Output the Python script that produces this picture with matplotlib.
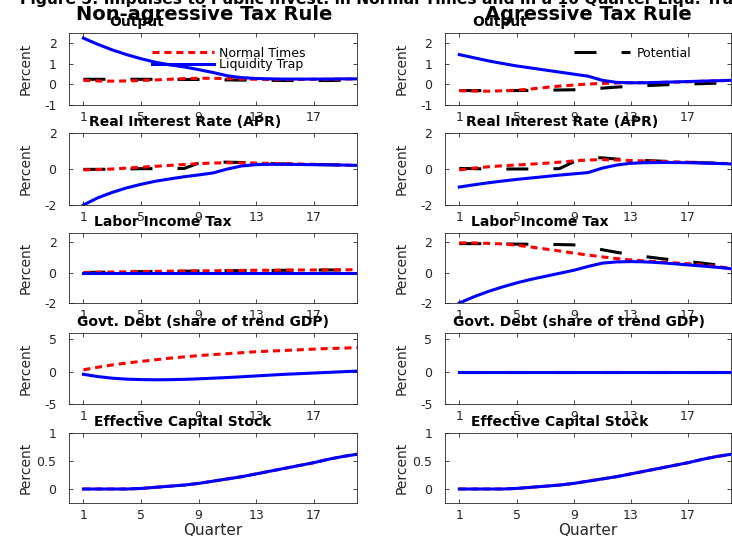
import matplotlib
matplotlib.use("Agg")
import matplotlib.pyplot as plt

quarters = [1, 2, 3, 4, 5, 6, 7, 8, 9, 10, 11, 12, 13, 14, 15, 16, 17, 18, 19, 20]
xtick_vals = [1, 5, 9, 13, 17]

# ---- non-agressive tax rule ----
out_trap_na = [2.25, 1.95, 1.68, 1.45, 1.25, 1.08, 0.95, 0.85, 0.72, 0.58,
               0.42, 0.33, 0.29, 0.27, 0.26, 0.26, 0.26, 0.26, 0.27, 0.27]
out_norm_na = [0.20, 0.17, 0.16, 0.17, 0.19, 0.22, 0.25, 0.28, 0.30, 0.30,
               0.28, 0.26, 0.25, 0.24, 0.24, 0.24, 0.25, 0.25, 0.26, 0.27]
out_pot_na = [0.25, 0.25, 0.25, 0.25, 0.25, 0.25, 0.25, 0.24, 0.24, 0.23,
              0.22, 0.21, 0.20, 0.20, 0.19, 0.19, 0.19, 0.19, 0.20, 0.20]

rr_trap_na = [-2.0, -1.6, -1.3, -1.05, -0.85, -0.68, -0.55, -0.43, -0.33, -0.22,
              0.0, 0.17, 0.24, 0.26, 0.26, 0.25, 0.24, 0.23, 0.22, 0.20]
rr_norm_na = [-0.05, -0.03, 0.0, 0.05, 0.10, 0.15, 0.20, 0.25, 0.30, 0.33,
              0.35, 0.34, 0.33, 0.31, 0.30, 0.28, 0.26, 0.24, 0.22, 0.20]
rr_pot_na = [-0.02, -0.02, -0.01, 0.0, 0.02, 0.02, 0.02, 0.03, 0.33, 0.38,
             0.38, 0.36, 0.33, 0.30, 0.28, 0.26, 0.25, 0.24, 0.22, 0.20]

tax_trap_na = [0.0, 0.0, 0.0, 0.0, 0.0, 0.0, 0.0, 0.0, 0.0, 0.0,
               0.0, 0.0, 0.0, 0.0, 0.0, 0.0, 0.0, 0.0, 0.0, 0.0]
tax_norm_na = [0.0, 0.02, 0.04, 0.05, 0.07, 0.08, 0.09, 0.10, 0.11, 0.12,
               0.13, 0.14, 0.15, 0.15, 0.16, 0.17, 0.17, 0.18, 0.18, 0.19]
tax_pot_na = [0.0, 0.02, 0.03, 0.05, 0.06, 0.07, 0.08, 0.09, 0.10, 0.11,
              0.12, 0.13, 0.14, 0.14, 0.15, 0.16, 0.16, 0.17, 0.17, 0.18]

debt_trap_na = [-0.4, -0.75, -1.0, -1.15, -1.22, -1.25, -1.23, -1.18, -1.1, -1.0,
                -0.9, -0.78, -0.65, -0.52, -0.4, -0.3, -0.2, -0.1, 0.0, 0.1]
debt_norm_na = [0.3, 0.7, 1.05, 1.35, 1.6, 1.85, 2.1, 2.3, 2.5, 2.65,
                2.8, 2.95, 3.1, 3.2, 3.3, 3.4, 3.5, 3.6, 3.65, 3.75]

cap_trap_na = [0.0, 0.0, 0.0, 0.0, 0.01, 0.03, 0.05, 0.07, 0.10, 0.14,
               0.18, 0.22, 0.27, 0.32, 0.37, 0.42, 0.47, 0.53, 0.58, 0.62]
cap_norm_na = cap_trap_na

# ---- agressive tax rule ----
out_trap_ag = [1.45, 1.30, 1.15, 1.02, 0.90, 0.80, 0.70, 0.60, 0.50, 0.40,
               0.20, 0.10, 0.08, 0.08, 0.10, 0.12, 0.14, 0.16, 0.18, 0.20]
out_norm_ag = [-0.30, -0.32, -0.33, -0.31, -0.28, -0.22, -0.15, -0.08, -0.03, 0.02,
               0.05, 0.07, 0.08, 0.09, 0.10, 0.11, 0.13, 0.15, 0.17, 0.20]
out_pot_ag = [-0.30, -0.30, -0.30, -0.30, -0.30, -0.29, -0.28, -0.27, -0.26, -0.23,
              -0.18, -0.13, -0.09, -0.06, -0.03, 0.0, 0.02, 0.04, 0.06, 0.08]

rr_trap_ag = [-1.0, -0.88, -0.77, -0.67, -0.58, -0.5, -0.42, -0.34, -0.27, -0.2,
              0.05, 0.22, 0.32, 0.35, 0.36, 0.36, 0.35, 0.33, 0.31, 0.28]
rr_norm_ag = [-0.05, 0.05, 0.12, 0.18, 0.22, 0.27, 0.32, 0.38, 0.45, 0.50,
              0.52, 0.50, 0.47, 0.45, 0.42, 0.40, 0.38, 0.35, 0.32, 0.30]
rr_pot_ag = [0.03, 0.02, 0.0, 0.0, 0.0, 0.0, 0.0, 0.02, 0.40, 0.65,
             0.62, 0.55, 0.50, 0.47, 0.44, 0.41, 0.38, 0.35, 0.32, 0.30]

tax_trap_ag = [-2.0, -1.6, -1.25, -0.95, -0.68, -0.45, -0.25, -0.05, 0.15, 0.40,
               0.62, 0.70, 0.72, 0.70, 0.65, 0.58, 0.50, 0.43, 0.35, 0.25]
tax_norm_ag = [1.95, 1.95, 1.92, 1.88, 1.80, 1.68, 1.55, 1.42, 1.28, 1.15,
               1.03, 0.92, 0.83, 0.76, 0.70, 0.64, 0.58, 0.50, 0.40, 0.28]
tax_pot_ag = [1.90, 1.90, 1.90, 1.88, 1.87, 1.86, 1.85, 1.84, 1.82, 1.68,
              1.50, 1.33, 1.18, 1.05, 0.93, 0.82, 0.72, 0.62, 0.50, 0.32]

debt_trap_ag = [0.0, 0.0, 0.0, 0.0, 0.0, 0.0, 0.0, 0.0, 0.0, 0.0,
                0.0, 0.0, 0.0, 0.0, 0.0, 0.0, 0.0, 0.0, 0.0, 0.0]
debt_norm_ag = debt_trap_ag
debt_pot_ag = debt_trap_ag

cap_trap_ag = cap_trap_na
cap_norm_ag = cap_trap_na

titles = ["Output", "Real Interest Rate (APR)", "Labor Income Tax",
          "Govt. Debt (share of trend GDP)", "Effective Capital Stock"]
ylims = [(-1, 2.5), (-2, 2), (-2, 2.6), (-5, 6), (-0.25, 1)]
yticks = [[-1, 0, 1, 2], [-2, 0, 2], [-2, 0, 2], [-5, 0, 5], [0, 0.5, 1]]

# (potential, normal, trap) per row
panels = [
    [(out_pot_na, out_norm_na, out_trap_na), (rr_pot_na, rr_norm_na, rr_trap_na),
     (tax_pot_na, tax_norm_na, tax_trap_na), (None, debt_norm_na, debt_trap_na),
     (None, cap_norm_na, cap_trap_na)],
    [(out_pot_ag, out_norm_ag, out_trap_ag), (rr_pot_ag, rr_norm_ag, rr_trap_ag),
     (tax_pot_ag, tax_norm_ag, tax_trap_ag), (debt_pot_ag, debt_norm_ag, debt_trap_ag),
     (None, cap_norm_ag, cap_trap_ag)],
]

W, H = 732, 536
fig = plt.figure(figsize=(W / 100, H / 100), dpi=100)

col_px = [(69, 357), (445, 731)]
row_px = [(33, 105), (133, 205), (233, 303), (333, 404), (433, 503)]
title_x = [[0.236, 0.403, 0.326, 0.465, 0.396], [0.19, 0.41, 0.33, 0.47, 0.40]]

axcol = "0.15"
dotted = (0, (2.3, 1.6))
dashed = (0, (7.2, 8.2))

for c in range(2):
    x0, x1 = col_px[c]
    for r in range(5):
        y0, y1 = row_px[r]
        ax = fig.add_axes([x0 / W, 1 - y1 / H, (x1 - x0) / W, (y1 - y0) / H])
        pot, norm, trap = panels[c][r]
        if pot is not None:
            ax.plot(quarters, pot, color="black", lw=2.2, linestyle=dashed, label="Potential")
        ax.plot(quarters, norm, color="red", lw=2.2, linestyle=dotted, label="Normal Times")
        ax.plot(quarters, trap, color="blue", lw=2.2, label="Liquidity Trap")

        ax.set_xlim(0, 20)
        ax.set_ylim(*ylims[r])
        ax.set_xticks(xtick_vals)
        ax.set_yticks(yticks[r])
        ax.set_yticklabels([f"{v:g}" for v in yticks[r]])
        ax.tick_params(direction="in", top=True, right=True, length=3, width=0.6,
                       colors=axcol, labelsize=9, pad=4)
        ax.tick_params(axis="y", pad=9)
        for s in ax.spines.values():
            s.set_color(axcol)
            s.set_linewidth(0.6)
        ax.set_title(titles[r], x=title_x[c][r], fontsize=10, fontweight="bold", pad=5)
        ax.set_ylabel("Percent", fontsize=10, color=axcol,
                      family=["Liberation Sans Narrow", "DejaVu Sans"])
        ax.yaxis.set_label_coords(-36 / (x1 - x0), 0.5)
        if r == 4:
            ax.set_xlabel("Quarter", fontsize=11, color=axcol)
            ax.xaxis.set_label_coords(0.5, -0.29)

        if r == 0 and c == 0:
            h = ax.get_lines()
            ax.legend([h[1], h[2]], ["Normal Times", "Liquidity Trap"], loc="upper left",
                      bbox_to_anchor=(0.288, 0.81), frameon=False, fontsize=9,
                      borderpad=0, borderaxespad=0, handlelength=5.0,
                      handletextpad=0.4, labelspacing=-0.1)
        if r == 0 and c == 1:
            h = ax.get_lines()
            ax.legend([h[0]], ["Potential"], loc="upper left",
                      bbox_to_anchor=(0.451, 0.81), frameon=False, fontsize=9,
                      borderpad=0, borderaxespad=0, handlelength=4.5,
                      handletextpad=0.5)

fig.text(20 / W, 1 - 4 / H,
         "Figure 5: Impulses to Public Invest. in Normal Times and in a 10 Quarter Liqu. Trap",
         ha="left", va="baseline", fontsize=11.2, fontweight="bold")
fig.text(204 / W, 1 - 14 / H, "Non-agressive Tax Rule", ha="center", va="center",
         fontsize=14, fontweight="bold")
fig.text(588 / W, 1 - 14 / H, "Agressive Tax Rule", ha="center", va="center",
         fontsize=14, fontweight="bold")

fig.savefig("out.png", dpi=100)
